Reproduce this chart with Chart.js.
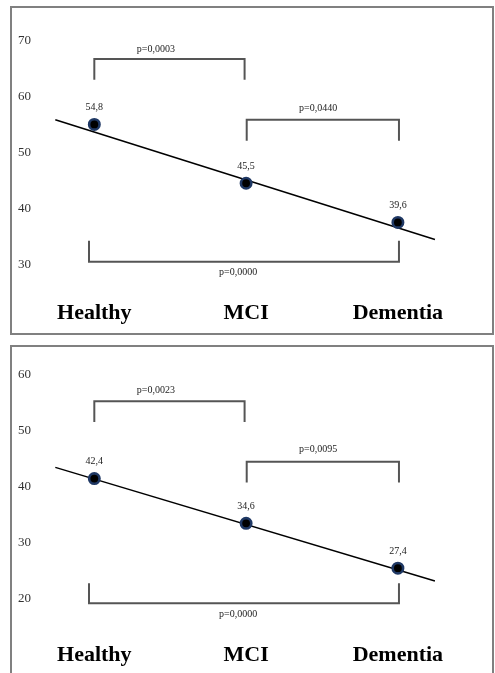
<!DOCTYPE html>
<html>
<head>
<meta charset="utf-8">
<title>Healthy / MCI / Dementia</title>
<script src="https://cdn.jsdelivr.net/npm/chart.js@4.4.1/dist/chart.umd.min.js"></script>
<style>
    html, body { margin: 0; padding: 0; background: #fff; overflow: hidden; }
    .panel { position: absolute; left: 10px; width: 480px; height: 325px; border: 2px solid #808080; background: #fff; }
    #panelTop { top: 6px; }
    #panelBottom { top: 345px; height: 340px; }
    canvas { display: block; }
</style>
</head>
<body>
<div class="panel" id="panelTop"><canvas id="chartTop" width="480" height="325"></canvas></div>
<div class="panel" id="panelBottom"><canvas id="chartBottom" width="480" height="325"></canvas></div>

<script>
// groups on the x axis (index 0, 1, 2)
const categories = ['Healthy', 'MCI', 'Dementia'];
const xTicks = [0, 1, 2];

// top panel
const topYTicks = [30, 40, 50, 60, 70];
const topValues = [55.1, 44.6, 37.6];          // where the dots sit
const topValueLabels = ['54,8', '45,5', '39,6'];
const topTrend = [[-0.257, 55.95], [2.244, 34.56]];
// brackets: [x from, x to, y of bar, y of the ends]
const topBrackets = [[0, 0.99, 66.8, 63.1], [1.004, 2.007, 55.95, 52.2], [-0.035, 2.007, 30.6, 34.35]];
const topPLabels = ['p=0,0003', 'p=0,0440', 'p=0,0000'];
const topPLabelPos = [[0.406, 68.5], [1.474, 58.0], [0.947, 28.7]];

// bottom panel
const bottomYTicks = [20, 30, 40, 50, 60];
const bottomValues = [41.4, 33.4, 25.4];
const bottomValueLabels = ['42,4', '34,6', '27,4'];
const bottomTrend = [[-0.257, 43.4], [2.244, 23.1]];
const bottomBrackets = [[0, 0.99, 55.2, 51.5], [1.004, 2.007, 44.4, 40.7], [-0.035, 2.007, 19.13, 22.7]];
const bottomPLabels = ['p=0,0023', 'p=0,0095', 'p=0,0000'];
const bottomPLabelPos = [[0.406, 57.1], [1.474, 46.7], [0.947, 17.15]];

const SERIF = '"Liberation Serif", "Times New Roman", serif';

// small texts: values above the dots and the p values
const textLabels = {
    id: 'textLabels',
    afterDatasetsDraw(chart, args, opts) {
        const ctx = chart.ctx;
        const x = chart.scales.x;
        const y = chart.scales.y;
        ctx.save();
        ctx.font = '10px ' + SERIF;
        ctx.fillStyle = '#222';
        ctx.textAlign = 'center';
        ctx.textBaseline = 'middle';
        opts.values.forEach((v, i) => {
            ctx.fillText(opts.valueLabels[i], x.getPixelForValue(xTicks[i]), y.getPixelForValue(v) - 17);
        });
        opts.pLabels.forEach((t, i) => {
            ctx.fillText(t, x.getPixelForValue(opts.pPos[i][0]), y.getPixelForValue(opts.pPos[i][1]));
        });
        ctx.restore();
    }
};

function bracketData(b) {
    return [
        { x: b[0], y: b[3] },
        { x: b[0], y: b[2] },
        { x: b[1], y: b[2] },
        { x: b[1], y: b[3] }
    ];
}

function makeChart(canvasId, d) {
    var ctx = document.getElementById(canvasId).getContext('2d');

    let datasets = [{
        data: d.values.map((v, i) => ({ x: xTicks[i], y: v })),
        pointRadius: 5.2,
        pointBorderWidth: 2.6,
        pointBackgroundColor: '#000',
        pointBorderColor: '#1F3864',
        showLine: false
    }, {
        data: d.trend.map(p => ({ x: p[0], y: p[1] })),
        showLine: true,
        borderColor: '#000',
        borderWidth: 1.5,
        pointRadius: 0
    }];

    d.brackets.forEach(b => {
        datasets.push({
            data: bracketData(b),
            showLine: true,
            borderColor: '#555',
            borderWidth: 2,
            borderJoinStyle: 'miter',
            pointRadius: 0
        });
    });

    return new Chart(ctx, {
        type: 'scatter',
        data: { datasets: datasets },
        options: {
            responsive: false,
            animation: false,
            layout: { padding: { left: 6, right: 22, top: 0, bottom: 0 } },
            plugins: {
                legend: { display: false },
                tooltip: { enabled: false },
                textLabels: {
                    values: d.values,
                    valueLabels: d.valueLabels,
                    pLabels: d.pLabels,
                    pPos: d.pPos
                }
            },
            scales: {
                x: {
                    type: 'linear',
                    bounds: 'data',
                    min: -0.371,
                    max: 2.475,
                    grid: { display: false, drawTicks: false },
                    border: { display: false },
                    afterBuildTicks: s => { s.ticks = xTicks.map(v => ({ value: v })); },
                    afterFit: s => { s.height = 40; },
                    ticks: {
                        padding: d.xPad,
                        autoSkip: false,
                        maxRotation: 0,
                        color: '#000',
                        font: { family: SERIF, size: 22, weight: 'bold' },
                        callback: v => categories[v]
                    }
                },
                y: {
                    bounds: 'data',
                    min: d.yMin,
                    max: d.yMax,
                    grid: { display: false, drawTicks: false },
                    border: { display: false },
                    afterBuildTicks: s => { s.ticks = d.yTicks.map(v => ({ value: v })); },
                    afterFit: s => { s.width = 20; },
                    ticks: {
                        padding: 0,
                        crossAlign: 'far',
                        color: '#333',
                        font: { family: SERIF, size: 13 }
                    }
                }
            }
        },
        plugins: [textLabels]
    });
}

document.addEventListener('DOMContentLoaded', () => {
    makeChart('chartTop', {
        values: topValues, valueLabels: topValueLabels, trend: topTrend,
        brackets: topBrackets, pLabels: topPLabels, pPos: topPLabelPos,
        yTicks: topYTicks, yMin: 25, yMax: 74.5, xPad: 7
    });
    makeChart('chartBottom', {
        values: bottomValues, valueLabels: bottomValueLabels, trend: bottomTrend,
        brackets: bottomBrackets, pLabels: bottomPLabels, pPos: bottomPLabelPos,
        yTicks: bottomYTicks, yMin: 14, yMax: 63.5, xPad: 10
    });
});
</script>
</body>
</html>
